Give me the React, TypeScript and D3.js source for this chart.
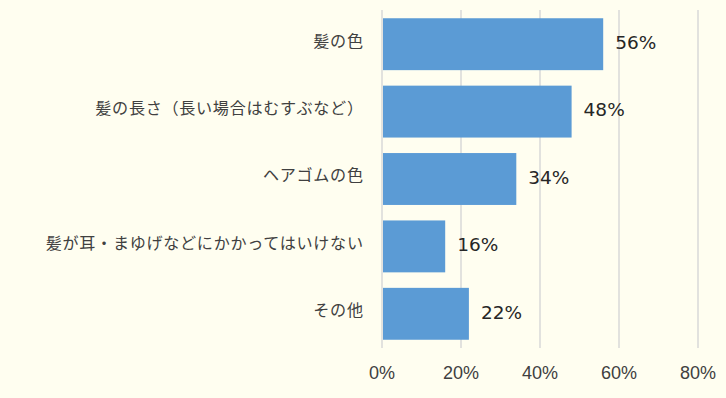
import React from "react";
import * as d3 from "d3";

const categories = [
  "髪の色",
  "髪の長さ（長い場合はむすぶなど）",
  "ヘアゴムの色",
  "髪が耳・まゆげなどにかかってはいけない",
  "その他",
];
const values = [56, 48, 34, 16, 22];
const ticks = [0, 20, 40, 60, 80];

const W = 726;
const H = 398;

export default function App() {
  const x = d3.scaleLinear().domain([0, 80]).range([382, 698]);
  const y = d3
    .scaleBand<string>()
    .domain(categories)
    .range([10.5, 347.5])
    .paddingInner(0.23)
    .paddingOuter(0.115);
  const cjk = "'Noto Sans CJK JP', 'Noto Sans', sans-serif";
  return (
    <svg
      width={W}
      height={H}
      style={{ position: "absolute", left: 0, top: 0, display: "block" }}
    >
      <rect x={0} y={0} width={W} height={H} fill="#FFFEF0" />
      {ticks.map((t) => (
        <line
          key={t}
          x1={x(t)}
          x2={x(t)}
          y1={10}
          y2={348}
          stroke="#D9D9D9"
          strokeWidth={1.5}
        />
      ))}
      {categories.map((c, i) => (
        <g key={c}>
          <rect
            x={x(0) + 1}
            y={y(c)}
            width={x(values[i]) - x(0) - 1}
            height={y.bandwidth()}
            fill="#5B9BD5"
          />
          <text
            x={x(values[i]) + 12}
            y={(y(c) as number) + y.bandwidth() / 2 + 4.7}
            fontSize={18.5}
            fill="#262626"
            fontFamily="'DejaVu Sans', sans-serif"
          >
            {values[i]}%
          </text>
          <text
            x={363.7}
            y={(y(c) as number) + y.bandwidth() / 2}
            dy="0.15em"
            fontSize={16.1}
            letterSpacing={0.7}
            fill="#404040"
            textAnchor="end"
            fontFamily={cjk}
          >
            {c}
          </text>
        </g>
      ))}
      {ticks.map((t) => (
        <text
          key={t}
          x={x(t)}
          y={378.6}
          fontSize={18}
          fill="#404040"
          textAnchor="middle"
          fontFamily="'Liberation Sans', sans-serif"
        >
          {t}%
        </text>
      ))}
    </svg>
  );
}
